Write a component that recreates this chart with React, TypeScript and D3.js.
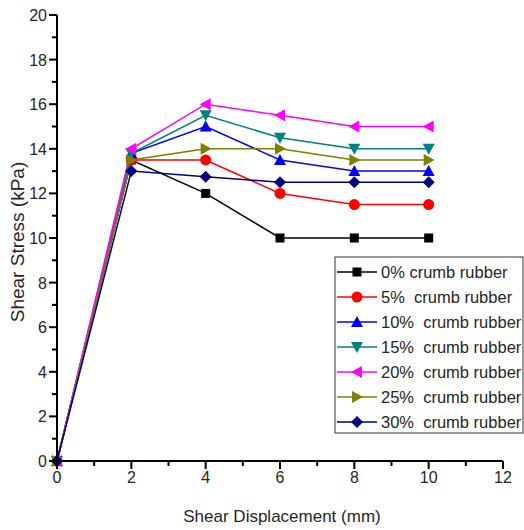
import React from "react";
import * as d3 from "d3";

// Shear displacement (mm) at each reading
const displacement = [0, 2, 4, 6, 8, 10];

// Shear stress (kPa) for each crumb rubber content
const rubber0 = [0, 13.5, 12, 10, 10, 10];
const rubber5 = [0, 13.5, 13.5, 12, 11.5, 11.5];
const rubber10 = [0, 13.8, 15, 13.5, 13, 13];
const rubber15 = [0, 13.8, 15.5, 14.5, 14, 14];
const rubber20 = [0, 14, 16, 15.5, 15, 15];
const rubber25 = [0, 13.5, 14, 14, 13.5, 13.5];
const rubber30 = [0, 13, 12.75, 12.5, 12.5, 12.5];

const seriesLabels = [
  "0% crumb rubber",
  "5%  crumb rubber",
  "10%  crumb rubber",
  "15%  crumb rubber",
  "20%  crumb rubber",
  "25%  crumb rubber",
  "30%  crumb rubber",
];
const seriesValues = [rubber0, rubber5, rubber10, rubber15, rubber20, rubber25, rubber30];
const seriesColors = ["#000000", "#ff0000", "#0000ff", "#008080", "#ff00ff", "#808000", "#000080"];
const seriesMarkers = ["square", "circle", "triUp", "triDown", "triLeft", "triRight", "diamond"];

const xTicks = [0, 2, 4, 6, 8, 10, 12];
const yTicks = [0, 2, 4, 6, 8, 10, 12, 14, 16, 18, 20];

const FONT = "'Liberation Sans', Arial, sans-serif";

function Marker({ type, x, y, color }: { type: string; x: number; y: number; color: string }) {
  const s = 5;
  let d = "";
  switch (type) {
    case "square":
      return <rect x={x - 4.5} y={y - 4.5} width={9} height={9} fill={color} />;
    case "circle":
      return <circle cx={x} cy={y} r={5.5} fill={color} />;
    case "triUp":
      d = `M${x},${y - s - 1}L${x + s + 1},${y + s}L${x - s - 1},${y + s}Z`;
      break;
    case "triDown":
      d = `M${x},${y + s + 1}L${x + s + 1},${y - s}L${x - s - 1},${y - s}Z`;
      break;
    case "triLeft":
      d = `M${x - s - 1},${y}L${x + s},${y - s - 1}L${x + s},${y + s + 1}Z`;
      break;
    case "triRight":
      d = `M${x + s + 1},${y}L${x - s},${y - s - 1}L${x - s},${y + s + 1}Z`;
      break;
    case "diamond":
      d = `M${x},${y - s - 1}L${x + s + 1},${y}L${x},${y + s + 1}L${x - s - 1},${y}Z`;
      break;
  }
  return <path d={d} fill={color} />;
}

export default function App() {
  const width = 524;
  const height = 530;
  const x = d3.scaleLinear().domain([0, 12]).range([57, 503]);
  const y = d3.scaleLinear().domain([0, 20]).range([461, 15]);
  const line = d3
    .line<number>()
    .x((_, i) => x(displacement[i]))
    .y((v) => y(v));

  const xMinor = d3.range(0, 12.01, 1);
  const yMinor = d3.range(0, 20.01, 1);

  const legend = { x: 335, y: 257, w: 188, h: 176, row: 25 };

  return (
    <svg
      width={width}
      height={height}
      style={{ position: "absolute", left: 0, top: 0, background: "#fff" }}
      fontFamily={FONT}
    >
      {/* series lines */}
      {seriesValues.map((vals, k) => (
        <path key={`l${k}`} d={line(vals) ?? ""} fill="none" stroke={seriesColors[k]} strokeWidth={1.5} />
      ))}
      {/* series markers */}
      {seriesValues.map((vals, k) =>
        vals.map((v, i) => (
          <Marker key={`m${k}-${i}`} type={seriesMarkers[k]} x={x(displacement[i])} y={y(v)} color={seriesColors[k]} />
        ))
      )}

      {/* axes */}
      <line x1={x(0)} x2={x(12)} y1={y(0)} y2={y(0)} stroke="#000" strokeWidth={2} />
      <line x1={x(0)} x2={x(0)} y1={y(0)} y2={y(20)} stroke="#000" strokeWidth={2} />
      {xMinor.map((t) => (
        <line key={`xt${t}`} x1={x(t)} x2={x(t)} y1={y(0)} y2={y(0) + (t % 2 === 0 ? 8 : 5)} stroke="#000" strokeWidth={2} />
      ))}
      {yMinor.map((t) => (
        <line key={`yt${t}`} x1={x(0)} x2={x(0) - (t % 2 === 0 ? 8 : 5)} y1={y(t)} y2={y(t)} stroke="#000" strokeWidth={2} />
      ))}
      {xTicks.map((t) => (
        <text key={`xl${t}`} x={x(t)} y={y(0) + 22} textAnchor="middle" fontSize={16} fill="#262626">
          {t}
        </text>
      ))}
      {yTicks.map((t) => (
        <text key={`yl${t}`} x={x(0) - 10} y={y(t) + 6} textAnchor="end" fontSize={16} fill="#262626">
          {t}
        </text>
      ))}
      <text x={282} y={522} textAnchor="middle" fontSize={17} fill="#262626">
        Shear Displacement (mm)
      </text>
      <text transform={`translate(24,242) rotate(-90)`} textAnchor="middle" fontSize={19} fill="#262626">
        Shear Stress (kPa)
      </text>

      {/* legend */}
      <rect x={legend.x} y={legend.y} width={legend.w} height={legend.h} fill="#fff" stroke="#333" strokeWidth={1} />
      {seriesLabels.map((lab, k) => {
        const cy = legend.y + 15 + k * legend.row;
        return (
          <g key={`lg${k}`}>
            <line x1={legend.x + 2} x2={legend.x + 42} y1={cy} y2={cy} stroke={seriesColors[k]} strokeWidth={1.5} />
            <Marker type={seriesMarkers[k]} x={legend.x + 22} y={cy} color={seriesColors[k]} />
            <text x={legend.x + 46} y={cy + 6} fontSize={16.5} fill="#262626" style={{ whiteSpace: "pre" }}>
              {lab}
            </text>
          </g>
        );
      })}
    </svg>
  );
}
